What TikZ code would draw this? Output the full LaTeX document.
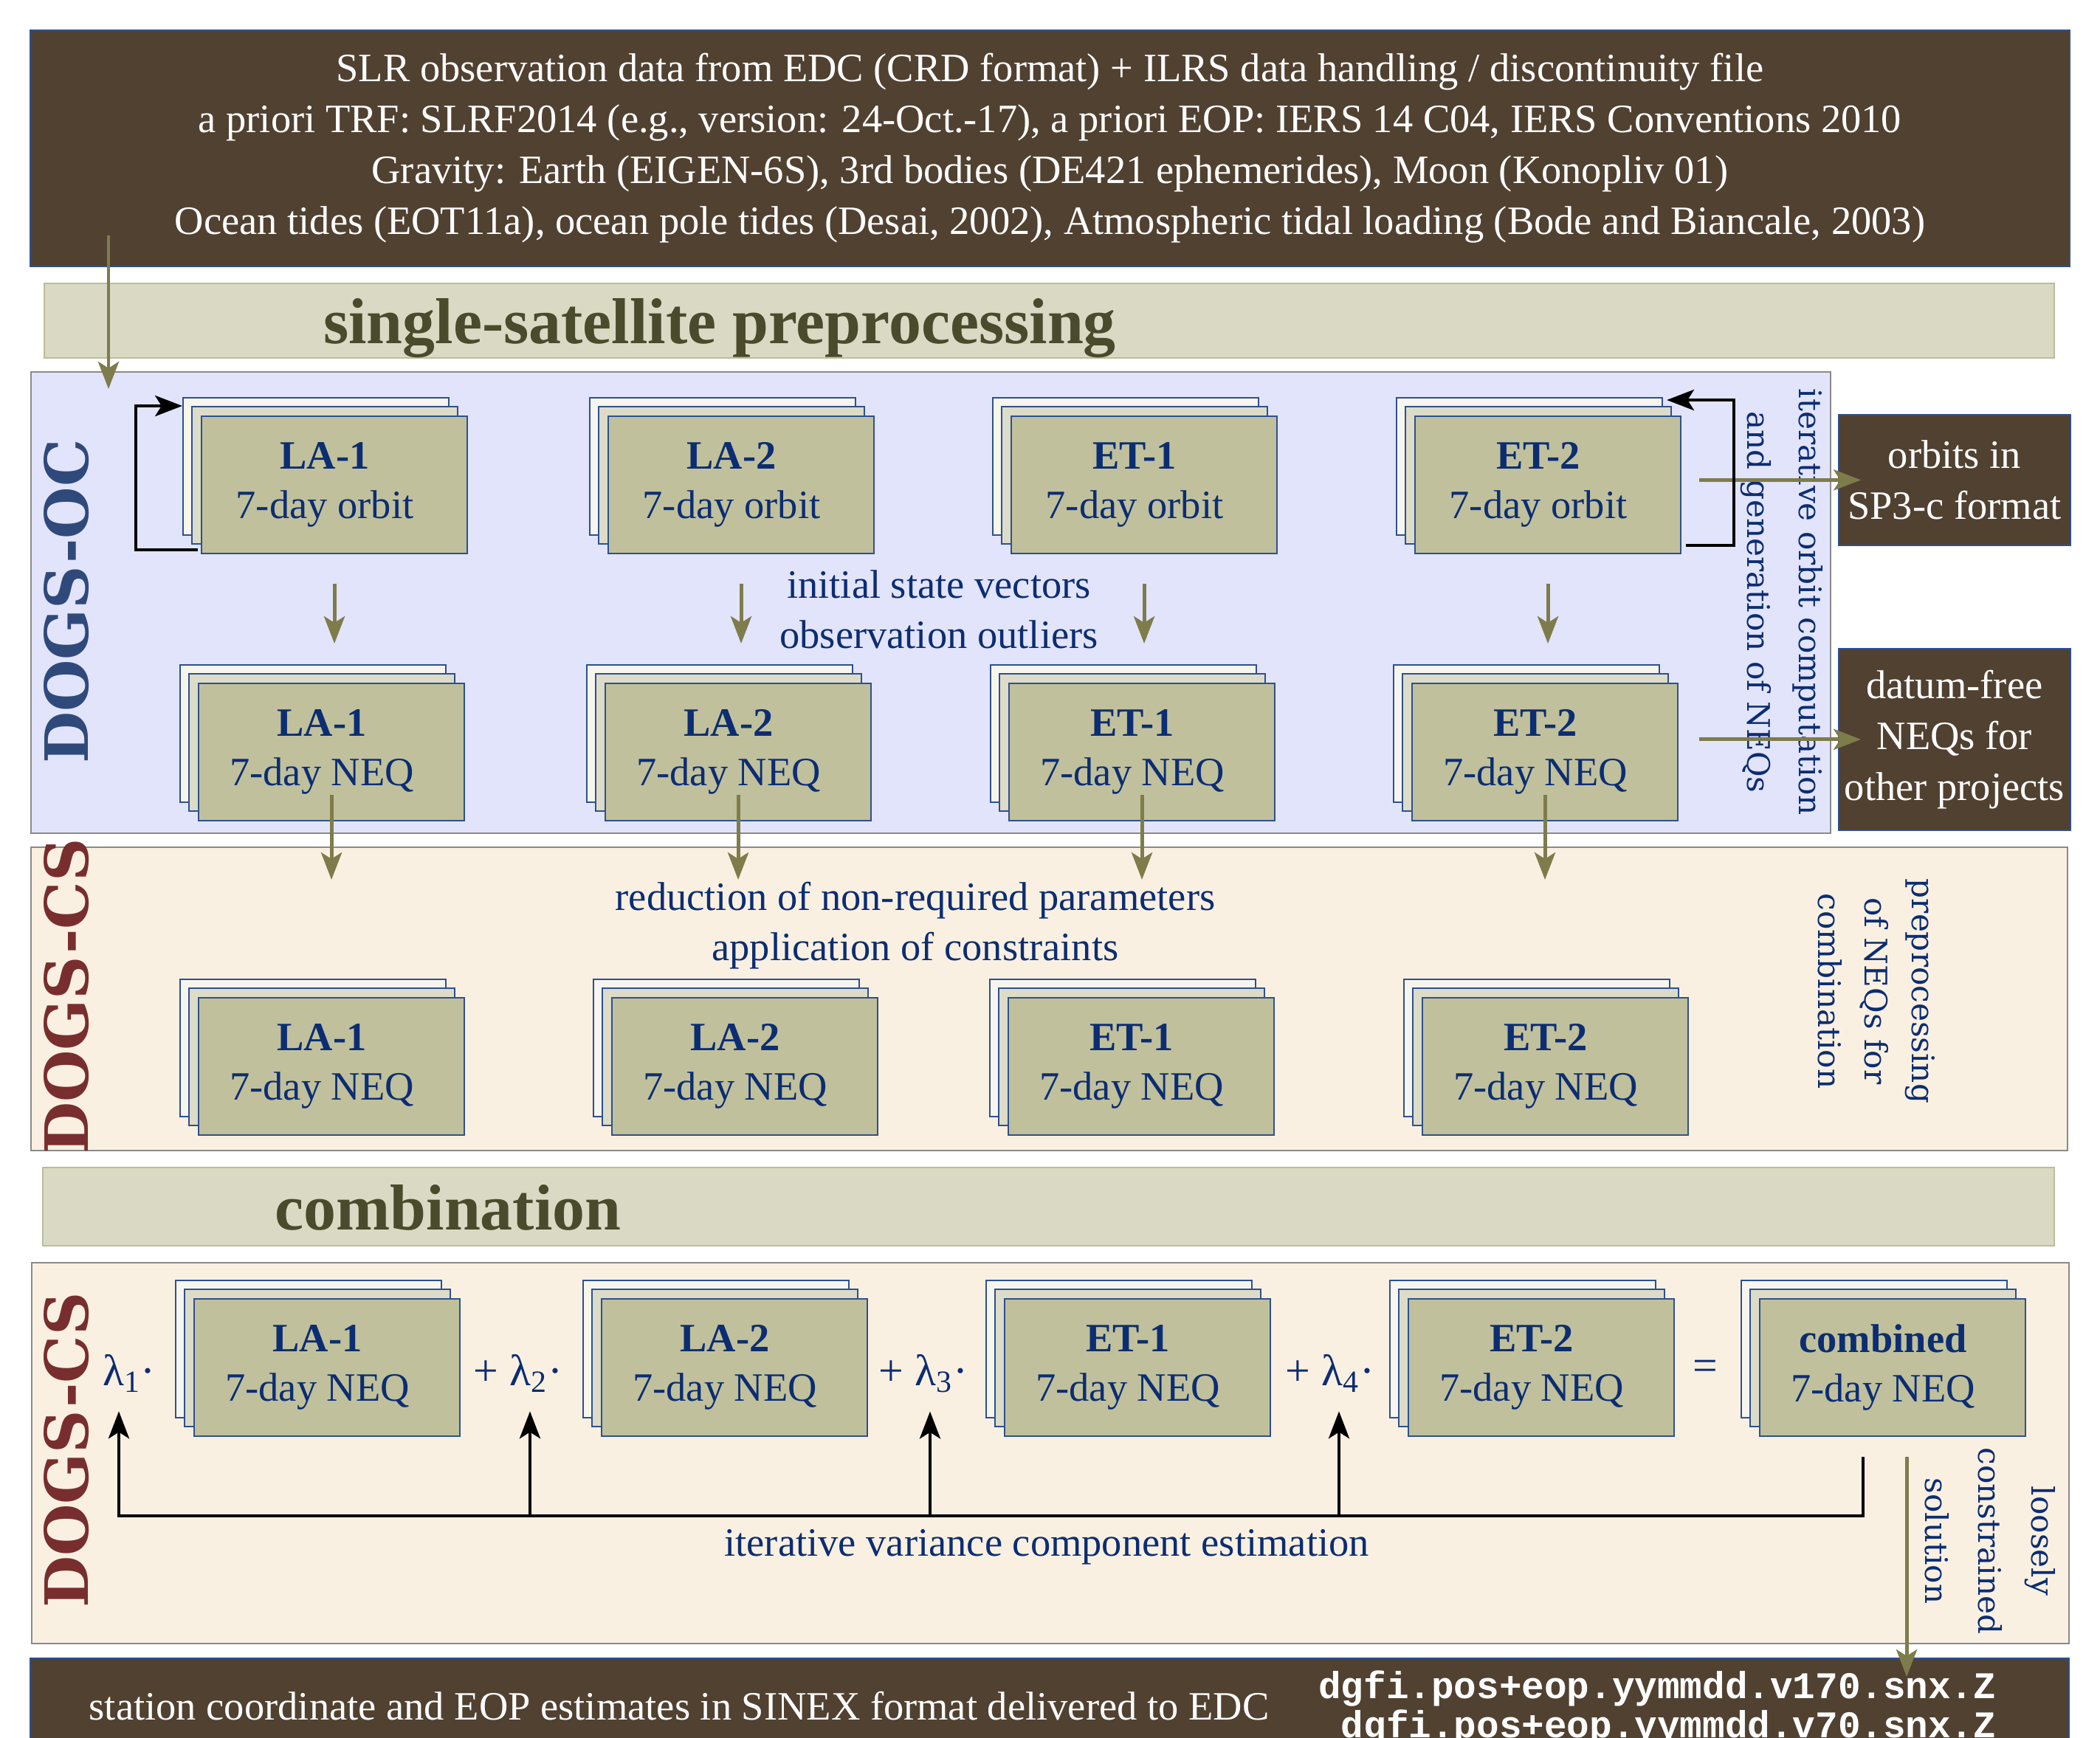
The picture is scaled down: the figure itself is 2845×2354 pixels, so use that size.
\documentclass[tikz,border=0pt]{standalone}
\usepackage{fontspec}
\setmainfont{Liberation Serif}
\newfontfamily\rotfont{DejaVu Serif}
\newfontfamily\filefont{Liberation Mono}
\usetikzlibrary{arrows.meta,positioning}

\definecolor{boxbrown}{HTML}{514131}
\definecolor{ocbg}{HTML}{E2E4FC}
\definecolor{csbg}{HTML}{FAF0E1}
\definecolor{barbg}{HTML}{DAD9C4}
\definecolor{barline}{HTML}{BDBC98}
\definecolor{headtxt}{HTML}{4A4A2C}
\definecolor{neqfront}{HTML}{C0C09C}
\definecolor{neqmid}{HTML}{DCDCC8}
\definecolor{neqback}{HTML}{F6F6EE}
\definecolor{neqline}{HTML}{2E5090}
\definecolor{txtblue}{HTML}{0B2D72}
\definecolor{oclabel}{HTML}{2F4A7A}
\definecolor{cslabel}{HTML}{782E2E}
\definecolor{olive}{HTML}{7E7C4B}
\definecolor{panelline}{HTML}{8A8A8A}

\newdimen\pix \pix=0.01cm

\tikzset{
  darkbox/.style={draw=neqline, line width=0.5pt, fill=boxbrown, text=white, inner sep=0pt,
    anchor=north west, align=center, font=\fontsize{15.5pt}{19.6pt}\selectfont},
  panel/.style={draw=panelline, line width=0.6pt, inner sep=0pt, anchor=north west},
  bar/.style={draw=barline, line width=0.6pt, fill=barbg, inner sep=0pt, anchor=north west},
  bartext/.style={text=headtxt, inner sep=0pt, anchor=base, font=\fontsize{25pt}{30pt}\selectfont\bfseries},
  sheet/.style={draw=neqline, line width=0.6pt, inner sep=0pt, minimum width=360\pix,
    minimum height=186\pix, anchor=north west},
  sheettext/.style={text=txtblue, align=center, inner sep=0pt, font=\fontsize{15.5pt}{19pt}\selectfont},
  note/.style={text=txtblue, align=center, inner sep=0pt, font=\fontsize{15.5pt}{19.5pt}\selectfont},
  sidenote/.style={text=txtblue, align=center, inner sep=0pt, rotate=-90},
  dogs/.style={rotate=90, inner sep=0pt, font=\rotfont\bfseries\fontsize{23pt}{28pt}\selectfont},
  lam/.style={text=txtblue, inner sep=0pt, font=\fontsize{17pt}{20pt}\selectfont},
  oarrow/.style={draw=olive, line width=1.4pt, -{Stealth[length=10.5pt,width=8pt,inset=2.5pt]}},
  karrow/.style={draw=black, line width=1.2pt, -{Stealth[length=10.5pt,width=8pt,inset=2.5pt]}},
}

% three stacked sheets: name, x, y (top left of the back sheet), title, subtitle
\newcommand{\neqstack}[5]{%
  \node[sheet, fill=neqback] (#1-b) at (#2,#3) {};
  \node[sheet, fill=neqmid] (#1-m) at (#2+12,#3+12) {};
  \node[sheet, fill=neqfront] (#1) at (#2+25,#3+25) {};
  \node[sheettext] (#1-t) at (#1-m |- #1) {\textbf{#4}\\#5};
}

\begin{document}
\begin{tikzpicture}[x=0.01cm,y=-0.01cm]
  \useasboundingbox (0,0) rectangle (2845,2354);
  \clip (0,0) rectangle (2845,2354);
  \fill[white] (0,0) rectangle (2845,2354);

  % input data
  \node[darkbox, minimum width=2763\pix, minimum height=320\pix] (inputs) at (40,40)
    {SLR observation data from EDC (CRD format) + ILRS data handling / discontinuity file\\
     a priori TRF: SLRF2014 (e.g., version: 24-Oct.-17), a priori EOP: IERS 14 C04, IERS Conventions 2010\\
     Gravity: Earth (EIGEN-6S), 3rd bodies (DE421 ephemerides), Moon (Konopliv 01)\\
     Ocean tides (EOT11a), ocean pole tides (Desai, 2002), Atmospheric tidal loading (Bode and Biancale, 2003)};
  \node[bar, minimum width=2723\pix, minimum height=101\pix] (prebar) at (59,383) {};
  \node[bartext] (pretxt) at (975,465) {single-satellite preprocessing};

  % DOGS-OC
  \node[panel, fill=ocbg, minimum width=2438\pix, minimum height=625\pix] (oc) at (41,503) {};
  \node[dogs, text=oclabel] (oclab) at (90,815) {DOGS-OC};
  \neqstack{o1}{247}{538}{LA-1}{7-day orbit}
  \neqstack{o2}{798}{538}{LA-2}{7-day orbit}
  \neqstack{o3}{1344}{538}{ET-1}{7-day orbit}
  \neqstack{o4}{1891}{538}{ET-2}{7-day orbit}
  \neqstack{n1}{243}{900}{LA-1}{7-day NEQ}
  \neqstack{n2}{794}{900}{LA-2}{7-day NEQ}
  \neqstack{n3}{1341}{900}{ET-1}{7-day NEQ}
  \neqstack{n4}{1887}{900}{ET-2}{7-day NEQ}
  \node[note] (isv) at (1272,826) {initial state vectors\\observation outliers};
  \node[sidenote, font=\rotfont\fontsize{12pt}{20pt}\selectfont] (iter) at (2414,816)
    {iterative orbit computation\\and generation of NEQs};
  \node[darkbox, minimum width=314\pix, minimum height=177\pix] (sp3) at (2490,561) {orbits in\\SP3-c format};
  \node[darkbox, minimum width=314\pix, minimum height=246\pix] (dfree) at (2490,878) {datum-free\\NEQs for\\other projects};

  % DOGS-CS preprocessing
  \node[panel, fill=csbg, minimum width=2759\pix, minimum height=411\pix] (cs1) at (41,1147) {};
  \node[dogs, text=cslabel] (cs1lab) at (90,1350) {DOGS-CS};
  \neqstack{c1}{243}{1326}{LA-1}{7-day NEQ}
  \neqstack{c2}{803}{1326}{LA-2}{7-day NEQ}
  \neqstack{c3}{1340}{1326}{ET-1}{7-day NEQ}
  \neqstack{c4}{1901}{1326}{ET-2}{7-day NEQ}
  \node[note] (red) at (1240,1254) {reduction of non-required parameters\\application of constraints};
  \node[sidenote, font=\rotfont\fontsize{12pt}{18pt}\selectfont] (prep) at (2542,1343)
    {preprocessing\\of NEQs for\\combination};

  % combination
  \node[bar, minimum width=2725\pix, minimum height=106\pix] (combar) at (57,1581) {};
  \node[bartext] (comtxt) at (607,1666) {combination};
  \node[panel, fill=csbg, minimum width=2760\pix, minimum height=516\pix] (cs2) at (42,1710) {};
  \node[dogs, text=cslabel] (cs2lab) at (90,1965) {DOGS-CS};
  \neqstack{k1}{237}{1734}{LA-1}{7-day NEQ}
  \neqstack{k2}{789}{1734}{LA-2}{7-day NEQ}
  \neqstack{k3}{1335}{1734}{ET-1}{7-day NEQ}
  \neqstack{k4}{1882}{1734}{ET-2}{7-day NEQ}
  \neqstack{cmb}{2358}{1734}{combined}{7-day NEQ}
  \node[lam] (lam1) at (175,1861) {λ\textsubscript{1}·};
  \node[lam] (lam2) at (702,1861) {+ λ\textsubscript{2}·};
  \node[lam] (lam3) at (1251,1861) {+ λ\textsubscript{3}·};
  \node[lam] (lam4) at (1802,1861) {+ λ\textsubscript{4}·};
  \node[lam] (eq) at (2310,1857) {=};
  \node[note, anchor=base] (ivce) at (1418,2108) {iterative variance component estimation};
  \node[sidenote, font=\rotfont\fontsize{12pt}{20.5pt}\selectfont] (loose) at (2696,2088)
    {loosely\\constrained\\solution};

  % output
  \node[darkbox, minimum width=2762\pix, minimum height=200\pix] (sinex) at (40,2246) {};
  \node[text=white, anchor=base, inner sep=0pt, font=\fontsize{15.5pt}{19.6pt}\selectfont] (sinextxt) at (920,2330)
    {station coordinate and EOP estimates in SINEX format delivered to EDC};
  \node[text=white, align=right, anchor=north east, inner sep=0pt,
    font=\filefont\bfseries\fontsize{14.5pt}{15.1pt}\selectfont] (files) at (2705,2263)
    {dgfi.pos+eop.yymmdd.v170.snx.Z\\dgfi.pos+eop.yymmdd.v70.snx.Z};

  % olive data flow
  \coordinate (feed) at (147,319);
  \draw[oarrow, shorten >=-24\pix] (feed) -- (feed |- oc.north);
  \foreach \s in {1,2,3,4} {
    \draw[oarrow, shorten <=40\pix, shorten >=28\pix] (o\s.south) -- (o\s.south |- n\s-b.north);
    \draw[oarrow, shorten <=-36\pix, shorten >=134\pix] (n\s.south) -- (n\s.south |- c\s-b.north);
  }
  \draw[oarrow, shorten <=24\pix, shorten >=-31\pix] (o4.east |- sp3.west) -- (sp3.west);
  \draw[oarrow, shorten <=28\pix, shorten >=-31\pix] (n4.east |- dfree.west) -- (dfree.west);
  \coordinate (lcs) at ([xshift=19\pix,yshift=-27\pix]cmb.south);
  \draw[oarrow, shorten >=-26\pix] (lcs) -- (lcs |- sinex.north);

  % iteration loops
  \draw[karrow] ([xshift=-4\pix,yshift=6\pix]o1.south west) -- ++(-84,0) |- ([yshift=-12\pix]o1-b.north west);
  \draw[karrow] ([xshift=6\pix,yshift=12\pix]o4.south east) -- ++(65,0) |- ([xshift=5\pix,yshift=-4\pix]o4-b.north east);

  % variance component estimation
  \coordinate (vce) at ([xshift=-40\pix,yshift=-27\pix]cmb.south);
  \coordinate (t1) at ([xshift=-14\pix,yshift=-25\pix]lam1.south);
  \coordinate (t2) at ([xshift=16\pix,yshift=-25\pix]lam2.south);
  \coordinate (t3) at ([xshift=9\pix,yshift=-25\pix]lam3.south);
  \coordinate (t4) at ([xshift=12\pix,yshift=-25\pix]lam4.south);
  \coordinate (vcl) at (0,2054);
  \draw[karrow] (vce) |- (t1 |- vcl) -- (t1);
  \foreach \t in {t2,t3,t4}
    \draw[karrow] (\t |- vcl) -- (\t);
\end{tikzpicture}
\end{document}
